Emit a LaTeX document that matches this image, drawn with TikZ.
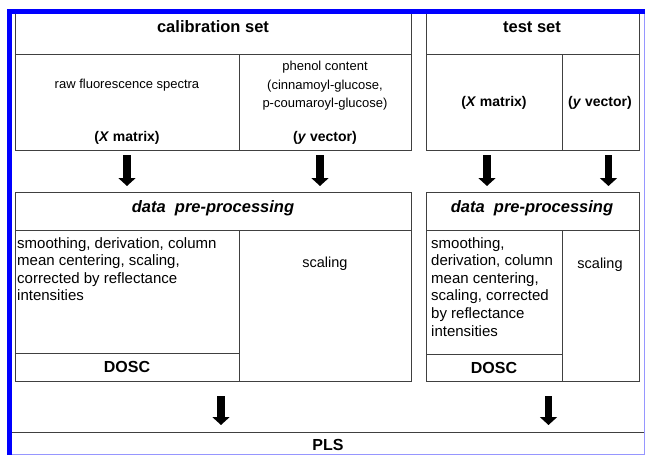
\documentclass[tikz,border=0pt]{standalone}
\usepackage{fontspec}
\setmainfont{Liberation Sans}
\usetikzlibrary{arrows.meta}

\definecolor{framelight}{RGB}{150,150,255}

\tikzset{
    cell/.style={draw=black!75, line width=0.8pt, inner sep=0pt, outer sep=0pt, anchor=north west},
    headtxt/.style={font=\fontsize{16.5}{19}\selectfont\bfseries},
    smalltxt/.style={font=\fontsize{13}{18.5}\selectfont, align=center},
    labeltxt/.style={font=\fontsize{14}{16}\selectfont\bfseries},
    bodytxt/.style={font=\fontsize{15}{17.6}\selectfont, align=left, anchor=north west, inner sep=0pt},
    bigarrow/.style={line width=7.5pt, -{Triangle[width=17pt,length=8pt]}}
}

\begin{document}
\begin{tikzpicture}[x=1pt, y=-1pt]
            \useasboundingbox (0,0) rectangle (645,455);

            % calibration set
            \node[cell, minimum width=396pt, minimum height=41pt] (calhead) at (15,13) {};
            \node[cell, minimum width=224pt, minimum height=96pt] (rawcell) at (15,54) {};
            \node[cell, minimum width=172pt, minimum height=96pt] (phenolcell) at (239,54) {};
            \node[headtxt] (caltitle) at (213,27) {calibration set};
            \node[smalltxt] (rawtxt) at (127,85) {raw fluorescence spectra};
            \node[smalltxt] (phenoltxt) at (325,86) {phenol content\\(cinnamoyl-glucose,\\p-coumaroyl-glucose)};
            \node[labeltxt] (calX) at (127,138) {(\textit{X} matrix)};
            \node[labeltxt] (caly) at (325,138) {(\textit{y} vector)};

            % test set
            \node[cell, minimum width=213pt, minimum height=41pt] (testhead) at (426,13) {};
            \node[cell, minimum width=136pt, minimum height=96pt] (testXcell) at (426,54) {};
            \node[cell, minimum width=77pt, minimum height=96pt] (testycell) at (562,54) {};
            \node[headtxt] (testtitle) at (532,27) {test set};
            \node[labeltxt] (testX) at (494,103) {(\textit{X} matrix)};
            \node[labeltxt] (testy) at (600,103) {(\textit{y} vector)};

            % pre-processing, calibration
            \node[cell, minimum width=396pt, minimum height=38pt] (prehead) at (15,192) {};
            \node[cell, minimum width=224pt, minimum height=123pt] (smoothcell) at (15,230) {};
            \node[cell, minimum width=224pt, minimum height=28pt] (dosccell) at (15,353) {};
            \node[cell, minimum width=172pt, minimum height=151pt] (scalecell) at (239,230) {};
            \node[headtxt, font=\fontsize{16.5}{19}\selectfont\bfseries\itshape] (pretitle) at (213,208) {data~ pre-processing};
            \node[bodytxt] (smoothtxt) at (17,237) {smoothing, derivation, column\\mean centering, scaling,\\corrected by reflectance\\intensities};
            \node[labeltxt, font=\fontsize{16}{18}\selectfont\bfseries] (dosctxt) at (127,367) {DOSC};
            \node[smalltxt, font=\fontsize{14.5}{17}\selectfont] (scaletxt) at (325,264) {scaling};

            % pre-processing, test
            \node[cell, minimum width=213pt, minimum height=38pt] (tprehead) at (426,192) {};
            \node[cell, minimum width=136pt, minimum height=124pt] (tsmoothcell) at (426,230) {};
            \node[cell, minimum width=136pt, minimum height=27pt] (tdosccell) at (426,354) {};
            \node[cell, minimum width=77pt, minimum height=151pt] (tscalecell) at (562,230) {};
            \node[headtxt, font=\fontsize{16.5}{19}\selectfont\bfseries\itshape] (tpretitle) at (532,208) {data~ pre-processing};
            \node[bodytxt] (tsmoothtxt) at (431,237) {smoothing,\\derivation, column\\mean centering,\\scaling, corrected\\by reflectance\\intensities};
            \node[labeltxt, font=\fontsize{16}{18}\selectfont\bfseries] (tdosctxt) at (494,368) {DOSC};
            \node[smalltxt, font=\fontsize{14.5}{17}\selectfont] (tscaletxt) at (600,265) {scaling};

            % PLS
            \node[inner sep=0pt, outer sep=0pt, anchor=north west, minimum width=632pt, minimum height=22pt] (plscell) at (12,432) {};
            \draw[black!75, line width=0.8pt] (plscell.north west) -- (plscell.north east);
            \node[labeltxt, font=\fontsize{16}{18}\selectfont\bfseries] (plstxt) at (328,445) {PLS};

            % arrows
            \draw[bigarrow, shorten <=5pt, shorten >=6pt] (rawcell.south) -- (rawcell.south |- prehead.north);
            \draw[bigarrow, shorten <=5pt, shorten >=6pt] ([xshift=-5pt]phenolcell.south) -- ([xshift=-5pt]phenolcell.south |- prehead.north);
            \draw[bigarrow, shorten <=5pt, shorten >=6pt] ([xshift=-7pt]testXcell.south) -- ([xshift=-7pt]testXcell.south |- tprehead.north);
            \draw[bigarrow, shorten <=5pt, shorten >=6pt] ([xshift=8pt]testycell.south) -- ([xshift=8pt]testycell.south |- tprehead.north);
            \draw[bigarrow, shorten <=15pt, shorten >=7pt] ([xshift=8pt]prehead.center |- scalecell.south) -- ([xshift=8pt]prehead.center |- plscell.north);
            \draw[bigarrow, shorten <=15pt, shorten >=7pt] ([xshift=16pt]tprehead.center |- tscalecell.south) -- ([xshift=16pt]tprehead.center |- plscell.north);

            % frame
            \fill[blue] (7,9) rectangle (645,14);
            \fill[blue] (7,9) rectangle (12,455);
            \draw[framelight, line width=1pt] (644,14) -- (644,455);
            \draw[framelight, line width=1pt] (12,454) -- (645,454);
        \end{tikzpicture}
\end{document}
